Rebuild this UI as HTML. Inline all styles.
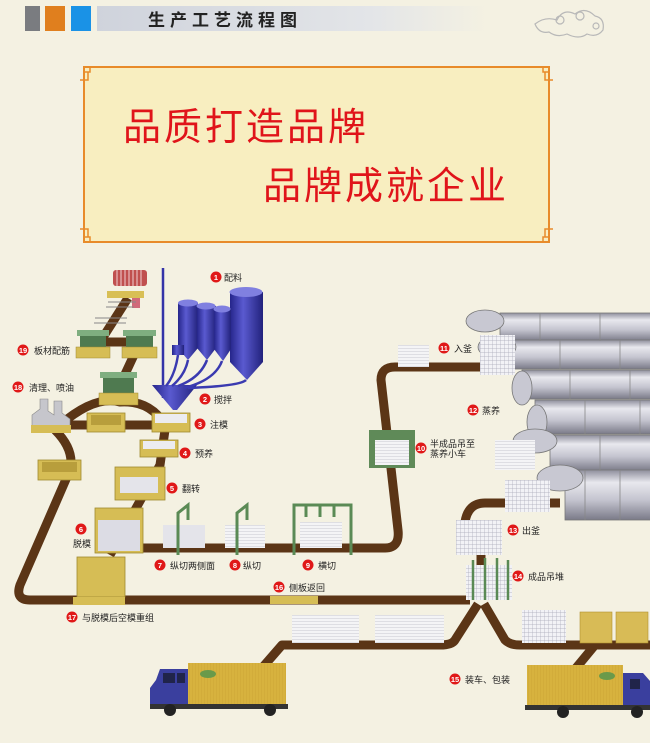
<!DOCTYPE html>
<html><head><meta charset="utf-8"><style>
html,body{margin:0;padding:0;background:#f4f1e2;}
svg{display:block}
text{font-family:"Liberation Sans","Noto Sans CJK SC",sans-serif;}
</style></head><body>
<svg width="650" height="743" viewBox="0 0 650 743" xmlns="http://www.w3.org/2000/svg">
<defs>
<linearGradient id="hdr" x1="0" x2="1"><stop offset="0" stop-color="#cfd3dc"/><stop offset="0.7" stop-color="#e3e5e8"/><stop offset="1" stop-color="#f4f1e2"/></linearGradient>
<linearGradient id="cyl" x1="0" y1="0" x2="0" y2="1"><stop offset="0" stop-color="#8e8e9c"/><stop offset="0.25" stop-color="#e8e8ee"/><stop offset="0.6" stop-color="#c4c4cf"/><stop offset="1" stop-color="#7a7a88"/></linearGradient>
<linearGradient id="silo" x1="0" x2="1"><stop offset="0" stop-color="#25258a"/><stop offset="0.4" stop-color="#5a5ad0"/><stop offset="1" stop-color="#22227c"/></linearGradient>
<pattern id="grid" width="4" height="4" patternUnits="userSpaceOnUse"><rect width="4" height="4" fill="#f2f2f6"/><path d="M0 0H4M0 0V4" stroke="#a8a8b8" stroke-width="0.7"/></pattern>
<pattern id="lines" width="4" height="3" patternUnits="userSpaceOnUse"><rect width="4" height="3" fill="#f4f4f6"/><path d="M0 0H4" stroke="#b4b4c0" stroke-width="0.7"/></pattern>
<pattern id="rib" width="3" height="4" patternUnits="userSpaceOnUse"><rect width="3" height="4" fill="#d7b23e"/><path d="M0 0V4" stroke="#c9a332" stroke-width="0.8"/></pattern>
</defs>

<!-- header -->
<rect x="25" y="6" width="15" height="25" fill="#7a7c80"/>
<rect x="45" y="6" width="20" height="25" fill="#e07f1e"/>
<rect x="71" y="6" width="20" height="25" fill="#1a92e6"/>
<rect x="97" y="6" width="390" height="25" fill="url(#hdr)"/>
<text x="148" y="26" font-size="17" font-weight="bold" fill="#222" letter-spacing="5">生产工艺流程图</text>
<g fill="none" stroke="#b8b8b8" stroke-width="1.2">
<path d="M535 24q10-8 22-4q6-12 18-6q10-8 20 2q10 2 8 14q-6 8-16 4q-8 6-20 0q-10 4-18-2q-10 2-14-8z"/>
<circle cx="560" cy="20" r="4"/><circle cx="580" cy="16" r="4"/><circle cx="596" cy="26" r="3"/>
</g>

<!-- banner -->
<rect x="84" y="67" width="465" height="175" fill="#f8eec0" stroke="#e88b2a" stroke-width="2"/>
<g fill="none" stroke="#e88b2a" stroke-width="1.5">
<path d="M84 72h6v-6M80 80h8v-8"/><path d="M549 72h-6v-6M553 80h-8v-8"/>
<path d="M84 237h6v6M80 229h8v8"/><path d="M549 237h-6v6M553 229h-8v8"/>
</g>
<text x="123" y="140" font-size="38" fill="#e0141a" font-family="'Noto Serif CJK SC',serif" letter-spacing="3">品质打造品牌</text>
<text x="263" y="199" font-size="38" fill="#e0141a" font-family="'Noto Serif CJK SC',serif" letter-spacing="3">品牌成就企业</text>

<!-- cylinders -->
<g stroke="#777" stroke-width="0.8">
<rect x="500" y="313" width="160" height="28" fill="url(#cyl)"/>
<ellipse cx="485" cy="321" rx="19" ry="11" fill="#c8c8d2"/>
<rect x="512" y="340" width="150" height="29" fill="url(#cyl)"/>
<ellipse cx="497" cy="347" rx="19" ry="11" fill="#c8c8d2"/>
<rect x="522" y="370" width="140" height="29" fill="url(#cyl)"/>
<ellipse cx="522" cy="388" rx="10" ry="17" fill="#c8c8d2"/>
<rect x="535" y="400" width="130" height="34" fill="url(#cyl)"/>
<ellipse cx="537" cy="422" rx="10" ry="17" fill="#c8c8d2"/>
<rect x="550" y="435" width="110" height="36" fill="url(#cyl)"/>
<ellipse cx="535" cy="441" rx="22" ry="12" fill="#c8c8d2"/>
<rect x="565" y="470" width="95" height="50" fill="url(#cyl)"/>
<ellipse cx="560" cy="478" rx="23" ry="13" fill="#c8c8d2"/>
</g>
<g stroke="#888" stroke-width="0.8"><path d="M540 313v28M600 313v28M560 340v29M620 340v29M570 370v29M630 370v29M585 400v34M640 400v34M600 435v36M585 470v50M620 470v50"/></g>

<!-- tracks -->
<g fill="none" stroke="#5b3516" stroke-width="9" stroke-linejoin="round" stroke-linecap="butt">
<path d="M128 298L100 342H140L120 385"/>
<path d="M60 425Q95 395 120 402Q150 400 165 425"/>
<path d="M45 425H165"/>
<path d="M55 430Q75 450 70 470L20 585Q15 600 30 600H470"/>
<path d="M165 430L160 465L110 555"/>
<path d="M130 548H385Q400 548 398 530L381 380Q381 367 395 367H482"/>
<path d="M481 555V600"/>
<path d="M478 604L455 640Q452 645 440 645H282L262 668"/>
<path d="M484 604L505 640Q510 645 520 645H650"/>
<path d="M595 645L576 668"/>
<path d="M465 522Q468 503 485 503H560"/>
</g>

<!-- silos and mixer -->
<line x1="163" y1="268" x2="163" y2="398" stroke="#3434a8" stroke-width="2.5"/>
<g fill="url(#silo)">
<rect x="230" y="292" width="33" height="70"/><ellipse cx="246" cy="292" rx="16.5" ry="5" fill="#8080e0"/><path d="M230 362h33l-16 18z"/>
<rect x="178" y="303" width="20" height="45"/><ellipse cx="188" cy="303" rx="10" ry="3.5" fill="#8080e0"/><path d="M178 348h20l-10 12z"/>
<rect x="197" y="306" width="19" height="42"/><ellipse cx="206" cy="306" rx="9.5" ry="3.5" fill="#8080e0"/><path d="M197 348h19l-9 12z"/>
<rect x="214" y="309" width="17" height="40"/><ellipse cx="222" cy="309" rx="8.5" ry="3.5" fill="#8080e0"/><path d="M214 349h17l-8 12z"/>
<rect x="172" y="345" width="12" height="10"/>
<path d="M152 385h45l-20 25h-4z"/>
</g>
<g fill="none" stroke="#3a3ab0" stroke-width="2.5">
<path d="M188 360Q185 375 172 386M207 360Q200 378 178 386M222 361Q215 380 184 388M246 380Q240 386 188 388M178 355Q175 375 166 386"/>
</g>

<!-- left stations -->
<g>
<g fill="#c0504f"><rect x="113" y="270" width="34" height="16" rx="3"/></g>
<g stroke="#f0d0d0" stroke-width="1"><path d="M117 270v16M121 270v16M125 270v16M129 270v16M133 270v16M137 270v16M141 270v16"/></g>
<rect x="107" y="291" width="37" height="7" fill="#d8bf55"/>
<rect x="132" y="298" width="8" height="10" fill="#d06a7a"/>
<g stroke="#888" stroke-width="1"><path d="M108 302h28M106 307h28M95 318h32M94 323h32"/></g>
<g>
<rect x="77" y="330" width="32" height="6" fill="#7fae80"/><rect x="80" y="336" width="26" height="12" fill="#4f7a50"/><rect x="76" y="347" width="34" height="11" fill="#d6bd55" stroke="#a08a30" stroke-width="0.5"/>
<rect x="123" y="330" width="33" height="6" fill="#7fae80"/><rect x="126" y="336" width="27" height="12" fill="#4f7a50"/><rect x="122" y="347" width="35" height="11" fill="#d6bd55" stroke="#a08a30" stroke-width="0.5"/>
<rect x="100" y="372" width="37" height="6" fill="#7fae80"/><rect x="103" y="378" width="31" height="16" fill="#4f7a50"/><rect x="99" y="393" width="39" height="12" fill="#d6bd55" stroke="#a08a30" stroke-width="0.5"/>
</g>
<path d="M32 432V415l8-6v-10h8v12l6 4v-14h8v12l8 6v13z" fill="#c6c6cc" stroke="#888" stroke-width="0.6"/>
<rect x="31" y="425" width="40" height="8" fill="#d6bd55"/>
<rect x="87" y="413" width="38" height="19" fill="#d6bd55" stroke="#a08a30" stroke-width="0.8"/><rect x="91" y="415" width="30" height="10" fill="#b89e3c"/>
<rect x="152" y="413" width="38" height="19" fill="#d6bd55" stroke="#a08a30" stroke-width="0.8"/><rect x="155" y="414" width="32" height="9" fill="#ececf0"/>
<rect x="38" y="460" width="43" height="20" fill="#d6bd55" stroke="#a08a30" stroke-width="0.8"/><rect x="42" y="462" width="35" height="10" fill="#b89e3c"/>
<rect x="140" y="440" width="38" height="17" fill="#d6bd55" stroke="#a08a30" stroke-width="0.8"/><rect x="143" y="441" width="32" height="8" fill="#ececf0"/>
<rect x="115" y="467" width="50" height="33" fill="#d6bd55" stroke="#a08a30" stroke-width="0.8"/><rect x="120" y="477" width="38" height="16" fill="#e4e4ea"/>
<rect x="95" y="508" width="48" height="45" fill="#d6bd55" stroke="#a08a30" stroke-width="0.8"/><rect x="98" y="520" width="42" height="31" fill="#dcdce4"/>
<rect x="77" y="557" width="48" height="40" fill="#d6bd55" stroke="#a08a30" stroke-width="0.8"/>
<rect x="73" y="597" width="52" height="8" fill="#d6bd55"/>
<rect x="270" y="596" width="48" height="8" fill="#d6bd55"/>
<rect x="163" y="525" width="42" height="23" fill="#e4e4ea"/>
<path d="M178 555V513l10-8v15" fill="none" stroke="#5a8a55" stroke-width="3"/>
<rect x="225" y="525" width="40" height="23" fill="url(#lines)"/>
<path d="M237 555V513l10-8v15" fill="none" stroke="#5a8a55" stroke-width="3"/>
<rect x="300" y="522" width="42" height="26" fill="url(#lines)"/>
<path d="M294 555V505h57v50M306 505v12M320 505v12M334 505v12" fill="none" stroke="#5a8a55" stroke-width="3"/>
</g>

<!-- right stations -->
<rect x="398" y="345" width="31" height="22" fill="url(#lines)"/>
<rect x="480" y="335" width="35" height="40" fill="url(#grid)"/>
<rect x="369" y="430" width="46" height="38" fill="#5f8a58"/><rect x="375" y="440" width="34" height="25" fill="url(#lines)"/>
<rect x="495" y="440" width="40" height="30" fill="url(#lines)"/>
<rect x="505" y="480" width="45" height="32" fill="url(#grid)"/>
<rect x="456" y="520" width="46" height="35" fill="url(#grid)"/>
<rect x="466" y="565" width="46" height="35" fill="url(#grid)"/>
<path d="M473 560v40M485 558v42M497 558v42M508 560v40" stroke="#5a8a55" stroke-width="2.5"/>
<rect x="292" y="615" width="67" height="28" fill="url(#lines)"/>
<rect x="375" y="615" width="69" height="28" fill="url(#lines)"/>
<rect x="522" y="610" width="44" height="33" fill="url(#grid)"/>
<rect x="580" y="612" width="32" height="31" fill="#d8bb56" stroke="#b09030" stroke-width="0.6"/>
<rect x="616" y="612" width="32" height="31" fill="#d8bb56" stroke="#b09030" stroke-width="0.6"/>

<!-- left truck -->
<rect x="188" y="663" width="98" height="42" fill="url(#rib)"/>
<ellipse cx="208" cy="674" rx="8" ry="4" fill="#6a9a4a"/>
<path d="M150 705V688l6-8l4-11h28v36z" fill="#3a3f9e"/>
<rect x="163" y="673" width="12" height="10" fill="#20244a"/><rect x="177" y="673" width="8" height="10" fill="#20244a"/>
<rect x="150" y="704" width="138" height="5" fill="#333"/>
<circle cx="170" cy="710" r="6" fill="#222"/><circle cx="270" cy="710" r="6" fill="#222"/>
<!-- right truck -->
<rect x="527" y="665" width="96" height="40" fill="url(#rib)"/>
<ellipse cx="607" cy="676" rx="8" ry="4" fill="#6a9a4a"/>
<path d="M623 708V673h20l7 8v27z" fill="#3a3f9e"/>
<rect x="630" y="679" width="10" height="10" fill="#20244a"/>
<rect x="525" y="705" width="125" height="5" fill="#333"/>
<circle cx="563" cy="712" r="6" fill="#222"/><circle cx="637" cy="712" r="6" fill="#222"/>

<!-- labels -->
<g font-size="9" fill="#222">
<g fill="#e01818">
<circle cx="216" cy="277" r="5.5"/><circle cx="205" cy="399" r="5.5"/><circle cx="200" cy="424" r="5.5"/><circle cx="185" cy="453" r="5.5"/><circle cx="172" cy="488" r="5.5"/><circle cx="81" cy="529" r="5.5"/><circle cx="160" cy="565" r="5.5"/><circle cx="235" cy="565" r="5.5"/><circle cx="308" cy="565" r="5.5"/><circle cx="421" cy="448" r="5.5"/><circle cx="444" cy="348" r="5.5"/><circle cx="473" cy="410" r="5.5"/><circle cx="513" cy="530" r="5.5"/><circle cx="518" cy="576" r="5.5"/><circle cx="455" cy="679" r="5.5"/><circle cx="279" cy="587" r="5.5"/><circle cx="72" cy="617" r="5.5"/><circle cx="18" cy="387" r="5.5"/><circle cx="23" cy="350" r="5.5"/>
</g>
<g fill="#fff" font-size="7.5" font-weight="bold" text-anchor="middle">
<text x="216" y="280">1</text><text x="205" y="402">2</text><text x="200" y="427">3</text><text x="185" y="456">4</text><text x="172" y="491">5</text><text x="81" y="532">6</text><text x="160" y="568">7</text><text x="235" y="568">8</text><text x="308" y="568">9</text><text x="421" y="451">10</text><text x="444" y="351">11</text><text x="473" y="413">12</text><text x="513" y="533">13</text><text x="518" y="579">14</text><text x="455" y="682">15</text><text x="279" y="590">16</text><text x="72" y="620">17</text><text x="18" y="390">18</text><text x="23" y="353">19</text>
</g>
<text x="224" y="281">配料</text>
<text x="214" y="403">搅拌</text>
<text x="210" y="428">注模</text>
<text x="195" y="457">预养</text>
<text x="182" y="492">翻转</text>
<text x="73" y="547">脱模</text>
<text x="170" y="569">纵切两侧面</text>
<text x="243" y="569">纵切</text>
<text x="318" y="569">横切</text>
<text x="430" y="447">半成品吊至</text>
<text x="430" y="457">蒸养小车</text>
<text x="454" y="352">入釜</text>
<text x="482" y="414">蒸养</text>
<text x="522" y="534">出釜</text>
<text x="528" y="580">成品吊堆</text>
<text x="465" y="683">装车、包装</text>
<text x="289" y="591">侧板返回</text>
<text x="82" y="621">与脱模后空模重组</text>
<text x="29" y="391">清理、喷油</text>
<text x="34" y="354">板材配筋</text>
</g>
</svg>
</body></html>
